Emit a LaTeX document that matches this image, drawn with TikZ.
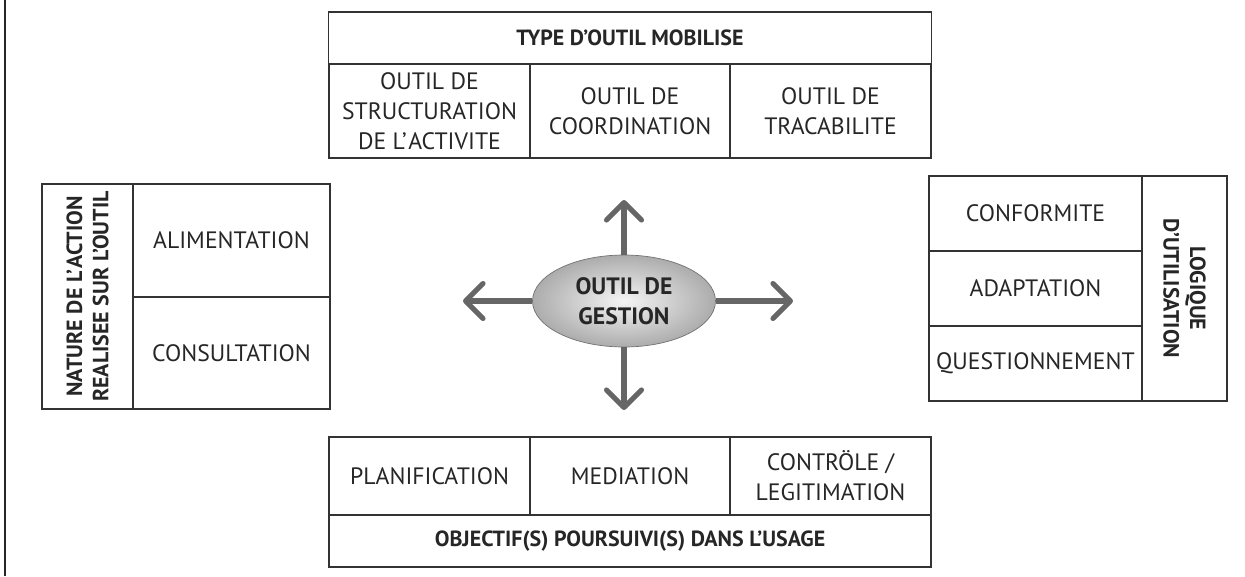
\documentclass[tikz,border=0pt]{standalone}
\usepackage{fontspec}
\setmainfont{PT Sans}
\usetikzlibrary{arrows.meta,shapes.geometric}
\tikzstyle{cell-text}=[font=\fontsize{13.5}{17}\selectfont,text=black!85,align=center]
\tikzstyle{title-text}=[font=\fontsize{12.5}{15}\selectfont\bfseries,text=black!85,align=center]
\tikzstyle{grid-line}=[draw=black!80,line width=0.8pt,inner sep=0pt,outer sep=0pt]
\tikzstyle{arrow-line}=[draw=black!60,line width=2.9pt]
\tikzset{cell-size/.style 2 args={minimum width=#1*0.02cm,minimum height=#2*0.02cm}}

\begin{document}
\begin{tikzpicture}[x=0.02cm,y=-0.02cm]
	\useasboundingbox (0,0) rectangle (1245,576);
	\draw[line width=1.2pt,black!85] (5,0) -- (5,576);

	\begin{scope}
	% type d'outil
	\node (type)[grid-line,title-text,cell-size={603}{52}] at (630,38) {TYPE D’OUTIL MOBILISE};
	\node (struct)[grid-line,cell-text,cell-size={201}{94}] at (429.5,111) {OUTIL DE\\STRUCTURATION\\DE L’\kern1ptACTIVITE};
	\node (coord)[grid-line,cell-text,cell-size={200}{94}] at (630,111) {OUTIL DE\\COORDINATION};
	\node (trace)[grid-line,cell-text,cell-size={201}{94}] at (830.5,111) {OUTIL DE\\TRACABILITE};

	% objectifs
	\node (planif)[grid-line,cell-text,cell-size={201}{78}] at (429.5,476) {PLANIFICATION};
	\node (media)[grid-line,cell-text,cell-size={200}{78}] at (630,476) {MEDIATION};
	\node (controle)[grid-line,cell-text,cell-size={201}{78}] at (830.5,476) {CONTRÖLE /\\LEGITIMATION};
	\node (objectif)[grid-line,title-text,cell-size={602}{52}] at (630,541) {OBJECTIF(S) POURSUIVI(S) DANS L’USAGE};

	% nature de l'action
	\node (nature)[grid-line,title-text,rotate=90,cell-size={225}{91}] at (87.5,296.5) {NATURE DE L’\kern1ptACTION\\REALISEE SUR L’OUTIL};
	\node (alim)[grid-line,cell-text,cell-size={197}{113}] at (231.5,240.5) {ALIMENTATION};
	\node (consult)[grid-line,cell-text,cell-size={197}{112}] at (231.5,353) {CONSULTATION};

	% logique d'utilisation
	\node (conform)[grid-line,cell-text,cell-size={213}{75}] at (1035.5,213.5) {CONFORMITE};
	\node (adapt)[grid-line,cell-text,cell-size={213}{75}] at (1035.5,288.5) {ADAPTATION};
	\node (quest)[grid-line,cell-text,cell-size={213}{75}] at (1035.5,363.5) {QUESTIONNEMENT};
	\node (logique)[grid-line,title-text,rotate=-90,cell-size={225}{85}] at (1184.5,288.5) {LOGIQUE\\D’UTILISATION};
	\end{scope}

	\begin{scope}
	\node (gestion)[ellipse,draw=black!55,shading=radial,inner color=gray!8,outer color=gray!65,minimum width=3.66cm,minimum height=1.84cm,inner sep=0pt,align=center,font=\fontsize{13.5}{17}\selectfont\bfseries,text=black!85] at (624,301) {OUTIL DE\\GESTION};
	\coordinate (tip-n) at (624,200);
	\coordinate (tip-s) at (624,410);
	\coordinate (tip-w) at (463,301);
	\coordinate (tip-e) at (793,301);
	\end{scope}

	\begin{scope}[>={Straight Barb[round,length=3.5mm,width=7mm,line width=2.9pt]}]
	\path [->,arrow-line] (gestion) -- (tip-n);
	\path [->,arrow-line] (gestion) -- (tip-s);
	\path [->,arrow-line] (gestion) -- (tip-w);
	\path [->,arrow-line] (gestion) -- (tip-e);
	\end{scope}
\end{tikzpicture}
\end{document}
